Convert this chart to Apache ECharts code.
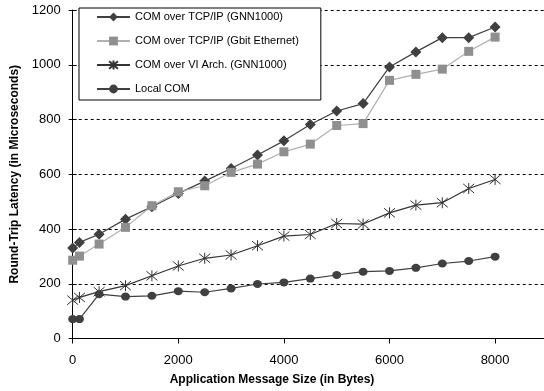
<!DOCTYPE html>
<html>
<head>
<meta charset="utf-8">
<script src="https://cdn.jsdelivr.net/npm/echarts@6/dist/echarts.min.js"></script>
<style>
  html, body { margin: 0; padding: 0; background: #fff; }
  #chart { width: 544px; height: 391px; }
</style>
</head>
<body>
<div id="chart"></div>
<script>
// Message sizes (bytes) for each measurement
const messageSizes = [0, 128, 500, 1000, 1500, 2000, 2500, 3000, 3500, 4000, 4500, 5000, 5500, 6000, 6500, 7000, 7500, 8000];

// Round-trip latency in microseconds
const tcpGnn    = [331, 351, 381, 436, 481, 530, 575, 621, 670, 722, 782, 831, 858, 992, 1047, 1099, 1099, 1138];
const tcpGbit   = [286, 301, 345, 406, 485, 536, 558, 607, 637, 682, 710, 778, 785, 943, 965, 984, 1049, 1101];
const viArch    = [140, 150, 171, 193, 229, 265, 293, 305, 339, 374, 380, 420, 418, 459, 487, 496, 548, 581];
const localCom  = [71, 71, 162, 153, 156, 173, 169, 183, 199, 205, 219, 232, 244, 247, 258, 274, 283, 299];

const seriesNames = [
  'COM over TCP/IP (GNN1000)',
  'COM over TCP/IP (Gbit Ethernet)',
  'COM over VI Arch. (GNN1000)',
  'Local COM'
];

const yTicks = { min: 0, max: 1200, step: 200 };
const xTicks = { min: 0, max: 10000, step: 2000 };

const pair = (vals) => messageSizes.map((x, i) => [x, vals[i]]);

const starPath = 'path://M0,0L10,10M10,0L0,10M5,-1L5,11';

const chart = echarts.init(document.getElementById('chart'), null, { renderer: 'canvas' });

chart.setOption({
  animation: false,
  backgroundColor: '#fff',
  textStyle: { fontFamily: 'Liberation Sans, Arial, sans-serif' },
  grid: { left: 72.7, top: 10, height: 328.5, width: 528, containLabel: false, outerBoundsMode: 'none' },
  legend: {
    orient: 'vertical',
    left: 79,
    top: 8,
    padding: [2, 22, 4, 17],
    itemWidth: 33,
    itemHeight: 11,
    itemGap: 10,
    borderColor: '#000',
    borderWidth: 1,
    backgroundColor: '#fff',
    textStyle: { fontSize: 11, color: '#000', lineHeight: 14, fontFamily: 'Liberation Sans, Arial, sans-serif' },
    data: seriesNames
  },
  xAxis: {
    type: 'value',
    min: xTicks.min,
    max: xTicks.max,
    interval: xTicks.step,
    axisLine: { lineStyle: { color: '#000', width: 1 } },
    axisTick: { show: true, inside: false, length: 5, lineStyle: { color: '#000' } },
    axisLabel: { fontSize: 13, color: '#000', margin: 15, formatter: (v) => String(v) },
    splitLine: { show: false }
  },
  yAxis: [
    {
      type: 'value',
      min: yTicks.min,
      max: yTicks.max,
      interval: yTicks.step,
      axisLine: { show: true, lineStyle: { color: '#000', width: 1 } },
      axisTick: { show: true, inside: false, length: 4, lineStyle: { color: '#000' } },
      axisLabel: { fontSize: 13, color: '#000', margin: 12, formatter: (v) => String(v) },
      splitLine: { show: true, lineStyle: { color: '#000', width: 1, type: [3, 3] } },
      name: 'Round-Trip Latency (in Microseconds)',
      nameLocation: 'middle',
      nameGap: 51,
      nameTextStyle: { fontSize: 12, fontWeight: 'bold', color: '#000' }
    },
    {
      // inner half of the crossing tick marks
      type: 'value',
      position: 'left',
      min: yTicks.min,
      max: yTicks.max,
      interval: yTicks.step,
      axisLine: { show: false },
      axisTick: { show: true, inside: true, length: 4, lineStyle: { color: '#000' } },
      axisLabel: { show: false },
      splitLine: { show: false }
    }
  ],
  graphic: [
    {
      type: 'text',
      left: 'center',
      top: 374,
      x: 8,
      style: {
        text: 'Application Message Size (in Bytes)',
        fontSize: 12,
        fontWeight: 'bold',
        fill: '#000',
        fontFamily: 'Liberation Sans, Arial, sans-serif'
      }
    }
  ],
  series: [
    {
      name: seriesNames[0],
      type: 'line',
      data: pair(tcpGnn),
      symbol: 'diamond',
      symbolSize: 11,
      lineStyle: { color: '#404040', width: 1.2 },
      itemStyle: { color: '#404040' }
    },
    {
      name: seriesNames[1],
      type: 'line',
      data: pair(tcpGbit),
      symbol: 'rect',
      symbolSize: 9,
      lineStyle: { color: '#b0b0b0', width: 1.2 },
      itemStyle: { color: '#8f8f8f' }
    },
    {
      name: seriesNames[2],
      type: 'line',
      data: pair(viArch),
      symbol: starPath,
      symbolSize: 11,
      lineStyle: { color: '#333', width: 1.2 },
      itemStyle: { color: '#333', borderColor: '#333', borderWidth: 1 }
    },
    {
      name: seriesNames[3],
      type: 'line',
      data: pair(localCom),
      symbol: 'circle',
      symbolSize: [9, 8],
      lineStyle: { color: '#404040', width: 1.2 },
      itemStyle: { color: '#404040' }
    }
  ]
});
</script>
</body>
</html>
